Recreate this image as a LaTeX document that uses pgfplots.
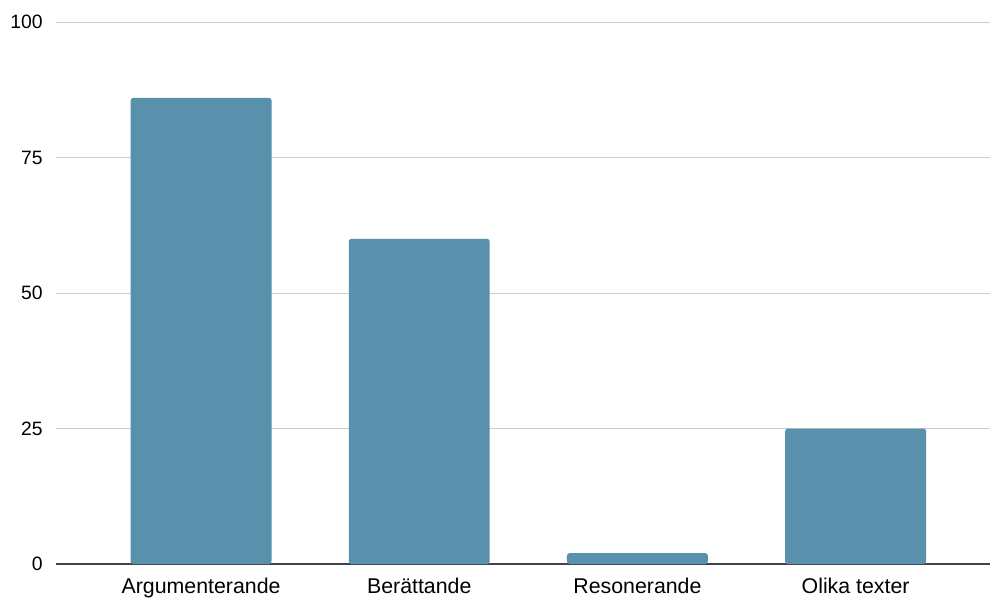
\documentclass[border=0pt]{standalone}
\usepackage{pgfplots}
\pgfplotsset{compat=1.18}
\usepackage{fontspec}
\setmainfont{Liberation Sans}
\definecolor{barc}{RGB}{89,145,173}
\definecolor{gridc}{RGB}{204,204,204}
\definecolor{axc}{RGB}{68,68,68}
\begin{document}
\begin{tikzpicture}
\begin{axis}[
  at={(0pt,0pt)}, anchor=south west,
  scale only axis, width=700.5pt, height=406.5pt,
  xmin=-0.665, xmax=3.616, ymin=0, ymax=100,
  ytick={0,25,50,75,100},
  xtick={0,1,2,3},
  xticklabels={Argumenterande,Berättande,Resonerande,Olika texter},
  ymajorgrids, grid style={draw=gridc, line width=0.75pt},
  axis x line*=bottom, axis y line*=left,
  x axis line style={draw=axc, line width=1.3pt, -},
  y axis line style={draw=none},
  major tick length=0pt,
  /pgf/number format/assume math mode=true,
  tick label style={text=black},
  yticklabel style={font=\fontsize{14.5}{17}\selectfont, inner sep=0pt, anchor=east, xshift=-9.75pt},
  xticklabel style={font=\fontsize{16}{19}\selectfont, inner sep=0pt, anchor=north, yshift=-10.5pt},
  ybar, bar width=0.646,
  clip=false,
]
\addplot[fill=barc, draw=none, rounded corners=2pt] coordinates {(0,86) (1,60) (2,2) (3,25)};
\end{axis}
\pgfresetboundingbox
\path (-42pt,-28pt) rectangle (701.25pt,423pt);
\end{tikzpicture}
\end{document}
